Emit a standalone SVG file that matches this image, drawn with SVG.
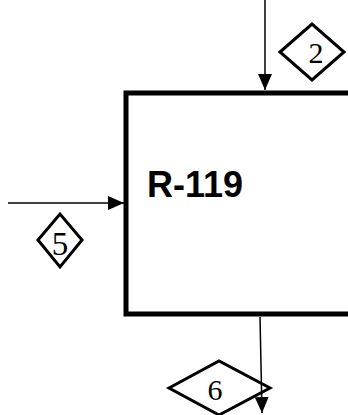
<svg xmlns="http://www.w3.org/2000/svg" width="348" height="415" viewBox="0 0 348 415">
<style>
.conn{stroke:#000;stroke-width:1.5;fill:none}
.dia{fill:#fff;stroke:#000;stroke-width:3;stroke-linejoin:miter}
.num{font-family:"Liberation Serif",serif;font-size:30px;fill:#000;text-anchor:middle}
.lbl{font-family:"Liberation Sans",Arial,sans-serif;font-size:36px;font-weight:bold;fill:#000}
</style>
<defs>
<marker id="ah" markerWidth="16" markerHeight="14" refX="16" refY="7" orient="auto" markerUnits="userSpaceOnUse" viewBox="0 0 16 14">
<path d="M0,0 L16,7 L0,14 z" fill="#000"/>
</marker>
</defs>
<g id="R-119">
<rect x="126" y="93" width="240" height="221" fill="#fff" stroke="#000" stroke-width="5"/>
<text class="lbl" x="147" y="197">R-119</text>
</g>
<g id="stream-2">
<polygon class="dia" points="280,52 312,24 344,52 312,80"/>
<text class="num" x="316" y="63">2</text>
</g>
<g id="stream-5">
<polygon class="dia" points="38,240 60,214 82,240 60,267"/>
<text class="num" x="60" y="255" style="font-size:33px">5</text>
</g>
<g id="stream-6">
<polygon class="dia" points="169,388 219,361 270,388 219,415"/>
<text class="num" x="215" y="400">6</text>
</g>
<g id="connectors">
<line class="conn" x1="265" y1="0" x2="265" y2="90" marker-end="url(#ah)"/>
<line class="conn" x1="8" y1="203" x2="124" y2="203" marker-end="url(#ah)"/>
<line class="conn" x1="260" y1="317" x2="262" y2="413" marker-end="url(#ah)"/>
</g>
</svg>
